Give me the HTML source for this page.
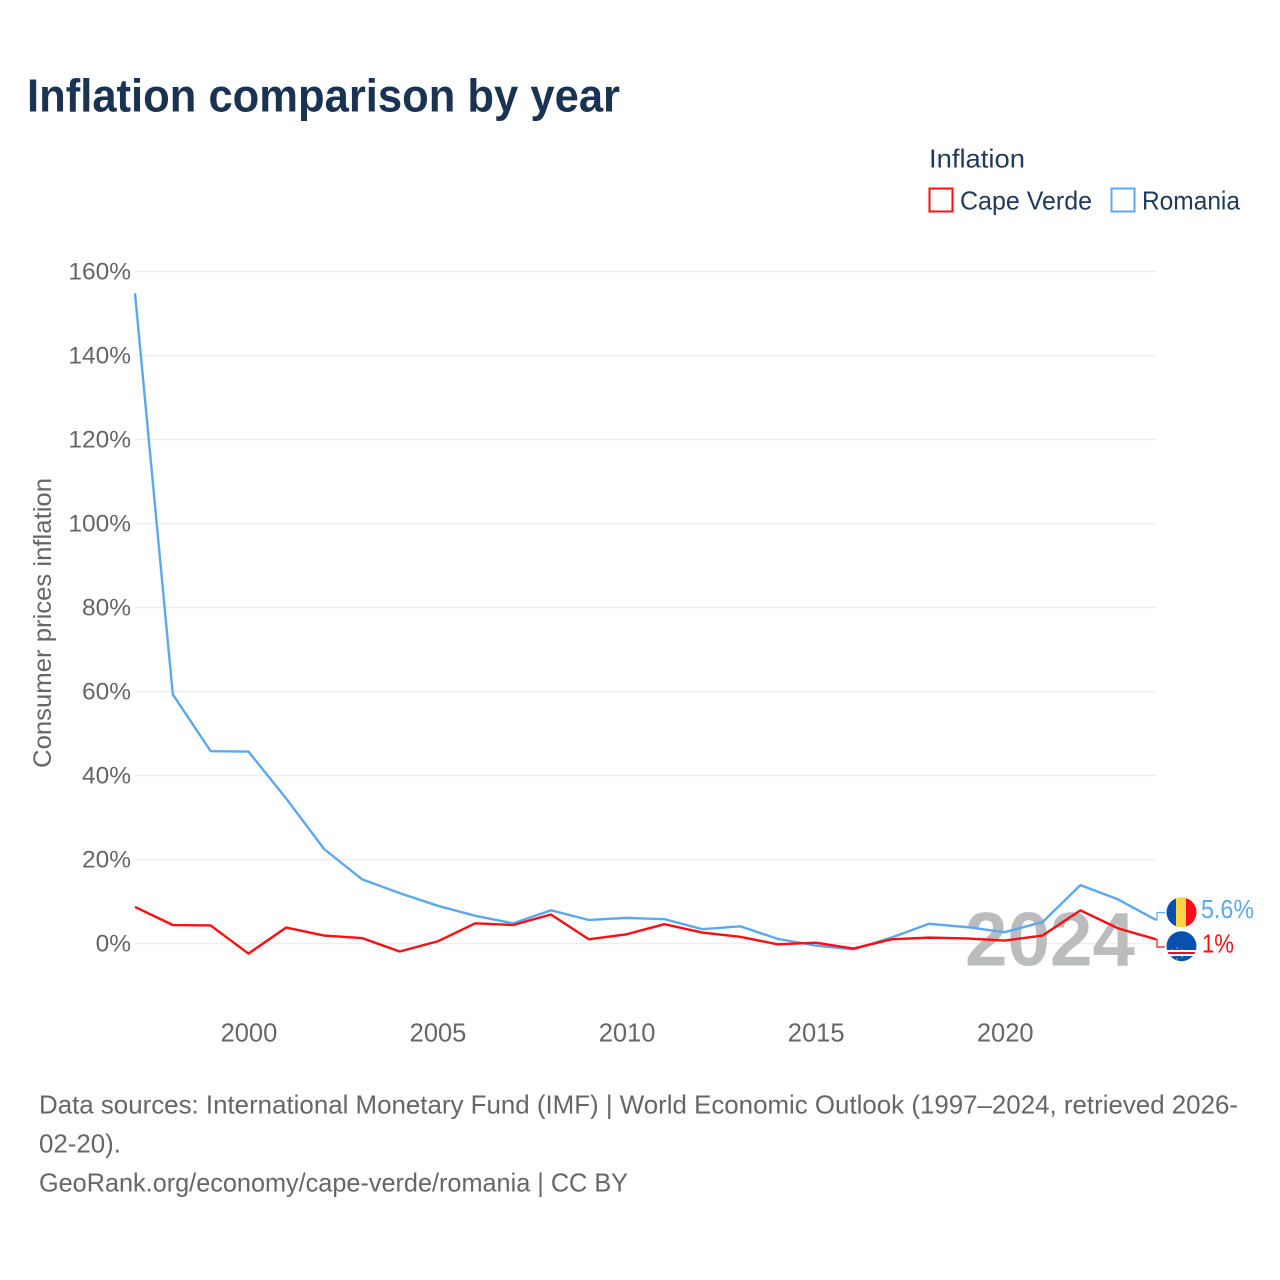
<!DOCTYPE html>
<html lang="en">
<head>
<meta charset="utf-8">
<title>Inflation comparison by year</title>
<style>
html,body{margin:0;padding:0;background:#fff;}
svg{display:block;font-family:"Liberation Sans",sans-serif;}
</style>
</head>
<body>
<svg id="chart" xmlns="http://www.w3.org/2000/svg" width="1280" height="1280" viewBox="0 0 1280 1280">
  <defs>
    <clipPath id="ro-clip"><circle cx="1181.5" cy="912.3" r="15"/></clipPath>
    <clipPath id="cv-clip"><circle cx="1181.5" cy="946.2" r="15"/></clipPath>
  </defs>
  <rect width="1280" height="1280" fill="#fff"/>
  <text x="27" y="111.500" font-size="46" font-weight="700" fill="#1a3353" textLength="593" lengthAdjust="spacingAndGlyphs">Inflation comparison by year</text>

  <g font-size="26" fill="#1f3a5a">
    <text x="929" y="167.500" textLength="96" lengthAdjust="spacingAndGlyphs">Inflation</text>
    <g>
      <rect x="929.5" y="188.5" width="23" height="23" fill="#fff" stroke="#ff0d12" stroke-width="2"/>
      <text x="960" y="209.500" textLength="132" lengthAdjust="spacingAndGlyphs">Cape Verde</text>
    </g>
    <g>
      <rect x="1111.5" y="188.5" width="23" height="23" fill="#fff" stroke="#5ca8f0" stroke-width="2"/>
      <text x="1142" y="209.500" textLength="98" lengthAdjust="spacingAndGlyphs">Romania</text>
    </g>
  </g>

  <text transform="translate(51,623) rotate(-90)" text-anchor="middle" font-size="25" fill="#666" textLength="290" lengthAdjust="spacingAndGlyphs">Consumer prices inflation</text>

  <g id="grid"></g>
  <g id="yticks" font-size="24.500" fill="#666" text-anchor="end"></g>
  <g id="xticks" font-size="25.500" fill="#666" text-anchor="middle"></g>

  <text x="965" y="965.500" font-size="76" font-weight="700" fill="#bbbcbe" textLength="170" lengthAdjust="spacingAndGlyphs">2024</text>

  <g id="series"></g>

  <g clip-path="url(#ro-clip)">
    <rect x="1166" y="897" width="10" height="31" fill="#0b4fae"/>
    <rect x="1176" y="897" width="10" height="31" fill="#fcd53f"/>
    <rect x="1186" y="897" width="11" height="31" fill="#fb0d1b"/>
  </g>
  <g clip-path="url(#cv-clip)">
    <rect x="1166" y="931" width="31" height="31" fill="#0a50ae"/>
    <rect x="1166" y="950" width="31" height="6" fill="#fff"/>
    <rect x="1166" y="952" width="31" height="2" fill="#e8112d"/>
    <circle cx="1172" cy="950" r="0.7" fill="#f7d116"/>
    <circle cx="1177" cy="948" r="0.7" fill="#f7d116"/>
    <circle cx="1182" cy="950" r="0.7" fill="#f7d116"/>
    <circle cx="1172" cy="957" r="0.7" fill="#f7d116"/>
    <circle cx="1177" cy="959" r="0.7" fill="#f7d116"/>
    <circle cx="1182" cy="957" r="0.7" fill="#f7d116"/>
  </g>

  <g font-size="26" fill="#666">
    <text x="39" y="1113.500" textLength="1199" lengthAdjust="spacingAndGlyphs">Data sources: International Monetary Fund (IMF) | World Economic Outlook (1997–2024, retrieved 2026-</text>
    <text x="39" y="1152.500" textLength="82" lengthAdjust="spacingAndGlyphs">02-20).</text>
    <text x="39" y="1191.500" textLength="589" lengthAdjust="spacingAndGlyphs">GeoRank.org/economy/cape-verde/romania | CC BY</text>
  </g>
</svg>

<script>
const years = [1997,1998,1999,2000,2001,2002,2003,2004,2005,2006,2007,2008,2009,2010,2011,2012,2013,2014,2015,2016,2017,2018,2019,2020,2021,2022,2023,2024];
const romania = [154.8,59.3,45.8,45.7,34.5,22.5,15.3,12.0,9.0,6.6,4.8,7.9,5.6,6.1,5.8,3.4,4.1,1.1,-0.5,-1.4,1.4,4.7,3.9,2.7,5.1,13.9,10.5,5.6];
const capeVerde = [8.7,4.4,4.3,-2.4,3.8,1.9,1.3,-1.9,0.5,4.8,4.4,6.9,1.0,2.2,4.6,2.6,1.6,-0.2,0.2,-1.2,1.0,1.4,1.2,0.7,1.9,7.9,3.6,1.0];
const yTicks = [0,20,40,60,80,100,120,140,160];
const xTicks = [2000,2005,2010,2015,2020];

const svgNS = 'http://www.w3.org/2000/svg';
function xScale(year){ return 135 + (year - 1997) * (1021 / 27); }
function yScale(value){ return 943.5 - value * 4.2; }
function make(tag, attrs, parent){
  const el = document.createElementNS(svgNS, tag);
  for (const k in attrs) el.setAttribute(k, attrs[k]);
  parent.appendChild(el);
  return el;
}

const grid = document.getElementById('grid');
const yLabels = document.getElementById('yticks');
yTicks.forEach(function(t){
  const line = make('line', {x1:135, x2:1156, y1:yScale(t), y2:yScale(t), stroke:'#eeeeee', 'stroke-width':1.5}, grid);
  
  
  const label = make('text', {x:131, y:yScale(t) + 8}, yLabels);
  
  
  label.textContent = t + '%';
});

const xLabels = document.getElementById('xticks');
xTicks.forEach(function(t){
  const label = make('text', {x:xScale(t) + 0.5, y:1041.5}, xLabels);
  
  
  label.textContent = t;
});

function drawSeries(values, color, labelOffset, labelX, labelWidth, name){
  const group = document.getElementById('series');
  const pts = values.map(function(v, i){ return xScale(years[i]).toFixed(2) + ',' + yScale(v).toFixed(2); }).join(' ');
  const line = make('polyline', {points:pts, fill:'none', stroke:color, 'stroke-width':2.4, 'stroke-linejoin':'round'}, group);
  
  
  const last = values[values.length - 1];
  const endX = xScale(years[years.length - 1]);
  const endY = yScale(last);
  const labelY = endY + labelOffset;
  const conn = make('polyline', {points:endX + ',' + endY + ' ' + (endX + 1) + ',' + endY + ' ' + (endX + 1) + ',' + labelY + ' ' + (endX + 9) + ',' + labelY, fill:'none', stroke:color, 'stroke-width':1.2}, group);
  
  
  const text = make('text', {x:labelX, y:labelY + 5.5, 'font-size':25.5, fill:color, textLength:labelWidth, lengthAdjust:'spacingAndGlyphs'}, group);
  
  
  text.textContent = last + '%';
}

drawSeries(romania, '#5ca8f0', -7.5, 1201, 53, 'romania');
drawSeries(capeVerde, '#ff0d12', 7.7, 1202, 32, 'cape-verde');
</script>
</body>
</html>
